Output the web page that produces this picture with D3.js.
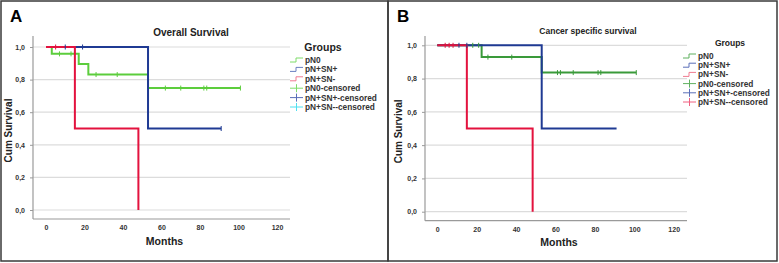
<!DOCTYPE html>
<html>
<head>
<meta charset="utf-8">
<script src="https://cdn.jsdelivr.net/npm/d3@7"></script>
<style>
  body { margin: 0; background: #fff; }
  svg text { font-family: "Liberation Sans", Arial, sans-serif; }
</style>
</head>
<body>
<div id="chart"></div>
<script>

// ---- data (months, cumulative survival) ----
let xTicks = [0, 20, 40, 60, 80, 100, 120];
let yTicks = [0, 0.2, 0.4, 0.6, 0.8, 1.0];
let legendLabels = ["pN0", "pN+SN+", "pN+SN-", "pN0-censored", "pN+SN+-censored", "pN+SN--censored"];

// Panel A - overall survival
let osPN0 = [[0, 1], [3, 0.958], [17, 0.896], [22, 0.831], [53, 0.748], [101, 0.748]];
let osPN0Cens = [[7, 0.958], [13, 0.958], [26, 0.831], [37, 0.831], [62, 0.748], [70, 0.748], [82, 0.748], [83.5, 0.748], [101, 0.748]];
let osSNpos = [[0, 1], [53, 0.5], [91, 0.5]];
let osSNposCens = [[10, 1], [19, 1], [91, 0.5]];
let osSNneg = [[0, 1], [15, 0.5], [48, 0]];
let osSNnegCens = [[5, 1]];

// Panel B - cancer specific survival
let cssPN0 = [[0, 1], [22.5, 0.929], [53, 0.836], [101, 0.836]];
let cssPN0Cens = [[18, 1], [21, 1], [25.7, 0.929], [37.8, 0.929], [61, 0.836], [62.5, 0.836], [69, 0.836], [81.6, 0.836], [83, 0.836], [101, 0.836]];
let cssSNpos = [[0, 1], [53, 0.5], [91, 0.5]];
let cssSNposCens = [[11, 1], [15, 1]];
let cssSNneg = [[0, 1], [15, 0.5], [48.4, 0]];
let cssSNnegCens = [[4, 1], [6, 1], [8, 1]];

const W = 779, H = 263;

const svg = d3.select("#chart").append("svg")
  .attr("width", W).attr("height", H);

// build a step path: horizontal then vertical at each event, last point extends horizontally
function stepPoints(pts) {
  let out = [];
  for (let i = 0; i < pts.length; i++) {
    if (i > 0) out.push([pts[i][0], pts[i - 1][1]]);
    out.push(pts[i]);
  }
  return out;
}

function drawPanel(cfg) {
  let g = svg.append("g");

  // frame
  g.append("rect")
    .attr("x", cfg.box[0]).attr("y", cfg.box[1])
    .attr("width", cfg.box[2]).attr("height", cfg.box[3])
    .attr("fill", "none").attr("stroke", "#3a3a3a").attr("stroke-width", 1.5);

  g.append("text")
    .attr("x", cfg.box[0] + 9).attr("y", cfg.box[1] + 21)
    .attr("font-size", 17).attr("font-weight", "bold")
    .text(cfg.letter);

  let x = d3.scaleLinear().domain([0, 120]).range(cfg.xr);
  let y = d3.scaleLinear().domain([0, 1]).range(cfg.yr);
  let left = cfg.plot[0], right = cfg.plot[1], top = cfg.plot[2], bottom = cfg.plot[3];

  // gridlines
  g.selectAll(".grid").data(yTicks).enter().append("line")
    .attr("x1", left).attr("x2", right)
    .attr("y1", d => y(d)).attr("y2", d => y(d))
    .attr("stroke", "#dcdcdc").attr("stroke-width", 1.2);

  // axis lines
  g.append("line").attr("x1", left).attr("x2", left).attr("y1", top).attr("y2", bottom)
    .attr("stroke", "#9a9a9a").attr("stroke-width", 1.2);
  g.append("line").attr("x1", left).attr("x2", right).attr("y1", bottom).attr("y2", bottom)
    .attr("stroke", "#9a9a9a").attr("stroke-width", 1.2);

  // y ticks
  let yAxis = d3.axisLeft(y).tickValues(yTicks).tickSize(3).tickPadding(5)
    .tickFormat(d => d3.format(".1f")(d).replace(".", ","));
  let ya = g.append("g").attr("transform", "translate(" + left + ",0)").call(yAxis);
  ya.select(".domain").remove();
  ya.selectAll("line").attr("stroke", "#9a9a9a");
  ya.selectAll("text").attr("font-size", 7).attr("font-weight", "bold").attr("fill", "#333")
    .style("font-family", "Liberation Sans, Arial, sans-serif");

  // x ticks
  let xAxis = d3.axisBottom(x).tickValues(xTicks).tickSize(0).tickPadding(6);
  let xa = g.append("g").attr("transform", "translate(0," + bottom + ")").call(xAxis);
  xa.select(".domain").remove();
  xa.selectAll("text").attr("font-size", 7).attr("font-weight", "bold").attr("fill", "#333")
    .style("font-family", "Liberation Sans, Arial, sans-serif");

  // titles
  g.append("text").attr("x", cfg.titleX).attr("y", cfg.titleY)
    .attr("text-anchor", "middle").attr("font-size", cfg.titleSize).attr("font-weight", "bold")
    .attr("fill", "#222").text(cfg.title);
  g.append("text").attr("x", (left + right) / 2 + 3).attr("y", cfg.monthsY)
    .attr("text-anchor", "middle").attr("font-size", 10.5).attr("font-weight", "bold")
    .attr("fill", "#222").text("Months");
  g.append("text")
    .attr("transform", "translate(" + cfg.cumX + "," + ((top + bottom) / 2 + 3) + ") rotate(-90)")
    .attr("text-anchor", "middle").attr("font-size", 10).attr("font-weight", "bold")
    .attr("fill", "#222").text("Cum Survival");

  // curves
  let line = d3.line().x(d => x(d[0])).y(d => y(d[1]));
  cfg.series.forEach(s => {
    g.append("path").datum(stepPoints(s.pts))
      .attr("d", line).attr("fill", "none")
      .attr("stroke", s.color).attr("stroke-width", 2);
  });
  cfg.series.forEach(s => {
    g.selectAll(null).data(s.cens).enter().append("line")
      .attr("x1", d => x(d[0])).attr("x2", d => x(d[0]))
      .attr("y1", d => y(d[1]) - 2.5).attr("y2", d => y(d[1]) + 2.5)
      .attr("stroke", s.censColor).attr("stroke-width", 1);
  });

  // legend
  let lg = g.append("g").attr("transform", "translate(" + cfg.legend[0] + "," + cfg.legend[1] + ")");
  lg.append("text").attr("x", cfg.legendTitleX).attr("y", cfg.legendTitleY).attr("text-anchor", "middle")
    .attr("font-size", cfg.legendTitleSize).attr("font-weight", "bold").attr("fill", "#222")
    .text("Groups");
  legendLabels.forEach((lab, i) => {
    let yy = cfg.legendY0 + i * cfg.legendStep;
    let col = cfg.legendColors[i];
    if (i < 3) {
      lg.append("path")
        .attr("d", "M0," + (yy + 2) + "H6V" + (yy - 2) + "H13")
        .attr("fill", "none").attr("stroke", col).attr("stroke-width", 1);
    } else {
      lg.append("path")
        .attr("d", "M0," + yy + "H13M6.5," + (yy - 4) + "V" + (yy + 4))
        .attr("fill", "none").attr("stroke", col).attr("stroke-width", 1);
    }
    lg.append("text").attr("x", 15).attr("y", yy + 3)
      .attr("font-size", 8.3).attr("font-weight", "bold").attr("fill", "#333").text(lab);
  });
}

drawPanel({
  box: [1, 1, 387, 260], letter: "A",
  xr: [46, 277], yr: [210, 47], plot: [33, 290, 36, 219],
  title: "Overall Survival", titleX: 191, titleY: 36, titleSize: 10,
  monthsY: 245, cumX: 12,
  legend: [290, 0], legendTitleX: 33, legendTitleY: 51, legendTitleSize: 10.5, legendY0: 60, legendStep: 9.4,
  legendColors: ["#7fdc6a", "#6a7fc0", "#f07a90", "#7fdc6a", "#5a6fb8", "#4fe0f0"],
  series: [
    { pts: osPN0, cens: osPN0Cens, color: "#5ccd3c", censColor: "#5ccd3c" },
    { pts: osSNpos, cens: osSNposCens, color: "#1f3a93", censColor: "#1f3a93" },
    { pts: osSNneg, cens: osSNnegCens, color: "#e3123e", censColor: "#e3123e" }
  ]
});

drawPanel({
  box: [388, 1, 389, 260], letter: "B",
  xr: [437.3, 673.7], yr: [211.7, 45.3], plot: [425, 687, 36, 220.7],
  title: "Cancer specific survival", titleX: 588, titleY: 34, titleSize: 8.5,
  monthsY: 246, cumX: 402,
  legend: [683, 0], legendTitleX: 47, legendTitleY: 46, legendTitleSize: 8.5, legendY0: 56, legendStep: 9.2,
  legendColors: ["#5fb05f", "#5a6fb8", "#f07a90", "#5fb05f", "#5a6fb8", "#f06080"],
  series: [
    { pts: cssPN0, cens: cssPN0Cens, color: "#3a9a3a", censColor: "#3a9a3a" },
    { pts: cssSNpos, cens: cssSNposCens, color: "#1f3a93", censColor: "#1f3a93" },
    { pts: cssSNneg, cens: cssSNnegCens, color: "#e3123e", censColor: "#e3123e" }
  ]
});

</script>
</body>
</html>
